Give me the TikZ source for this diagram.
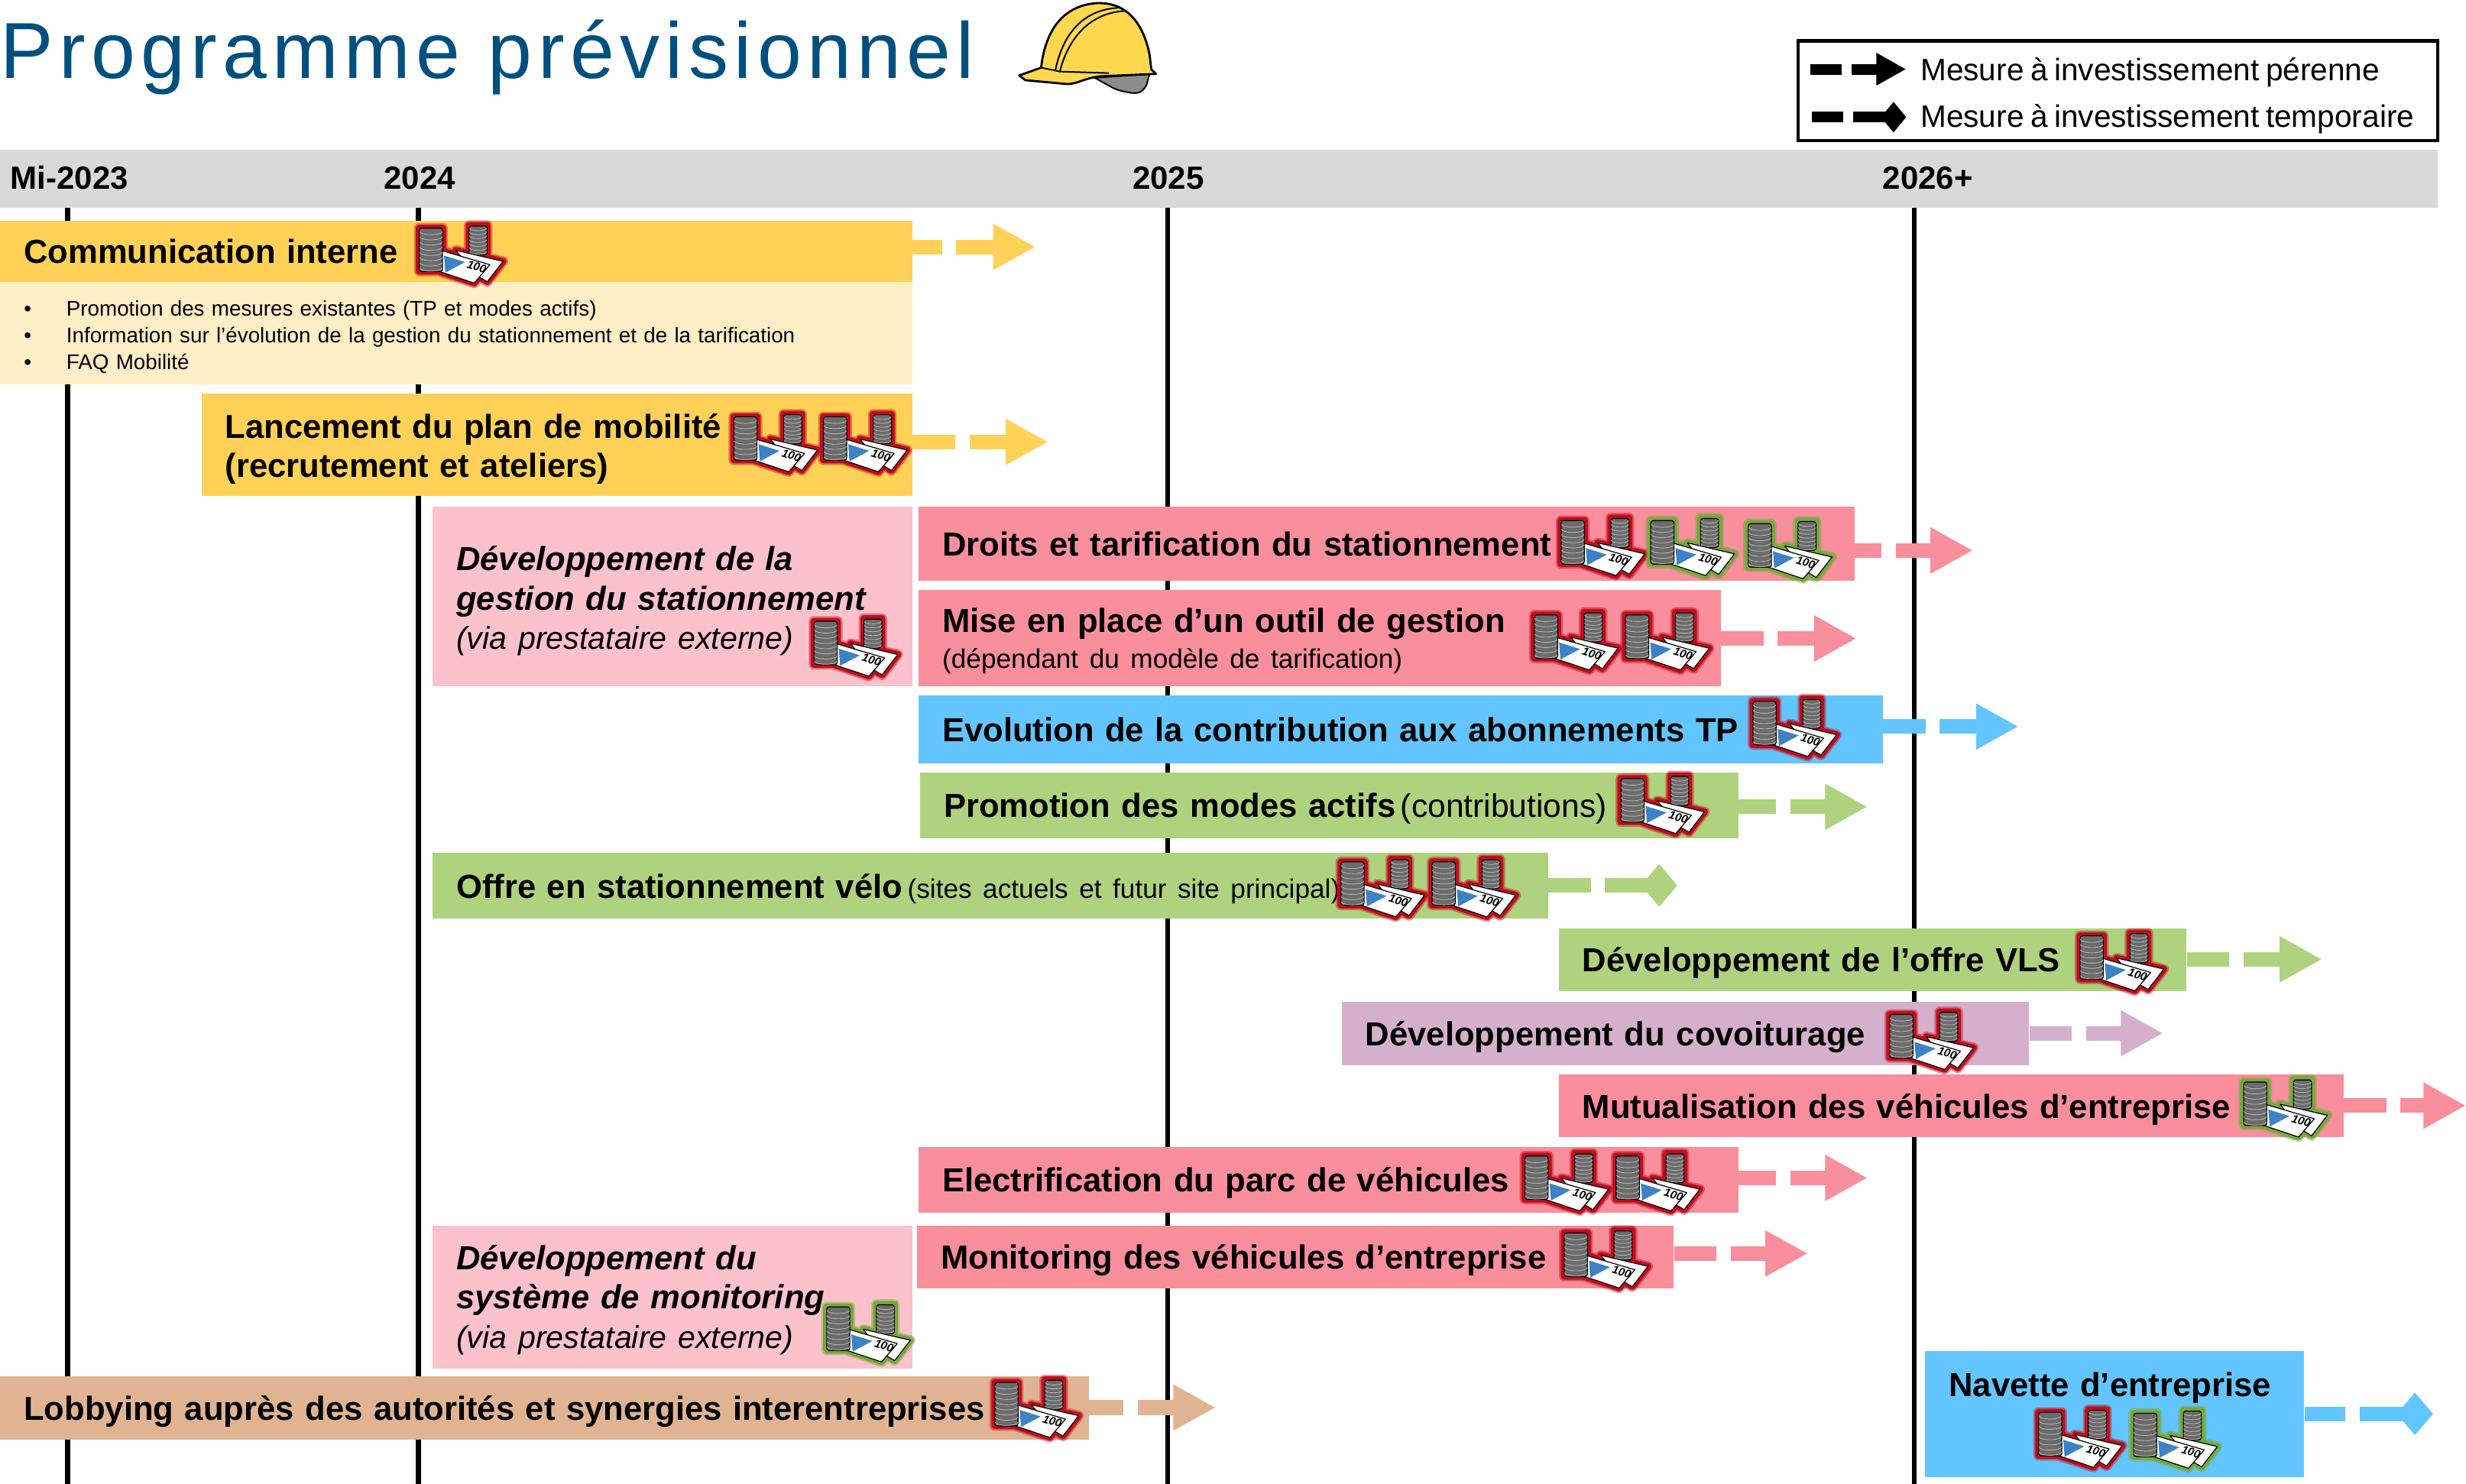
\documentclass[tikz,border=0pt]{standalone}
\usepackage{fontspec}
\setmainfont[WordSpace=0.75]{Liberation Sans}
\newfontfamily\titlefont[LetterSpace=7.1]{Liberation Sans}
\usetikzlibrary{arrows.meta}
\newcommand{\uu}{1.029pt}
\definecolor{titleblue}{HTML}{00507F}
\definecolor{headgray}{HTML}{D9D9D9}
\definecolor{ylwdark}{HTML}{FFD157}
\definecolor{ylwlight}{HTML}{FFEFC7}
\definecolor{pinkdark}{HTML}{F98E9C}
\definecolor{pinklight}{HTML}{FCC2CC}
\definecolor{skyblue}{HTML}{63C5FF}
\definecolor{leaf}{HTML}{AFD27E}
\definecolor{mauve}{HTML}{D5B0CC}
\definecolor{tan}{HTML}{E0B493}
\definecolor{glowred}{HTML}{C00D1E}
\definecolor{glowgreen}{HTML}{76A83A}
\definecolor{hatyellow}{HTML}{FFD850}
\definecolor{noteblue}{HTML}{3C82C4}
\newcommand{\moneyoutline}{(15,30) rectangle (105,195) (205,20) rectangle (275,130)
	(155,115) -- (335,157) -- (275,235) -- (225,205) -- cycle
	(105,117) -- (285,170) -- (225,240) -- (60,185) -- cycle}
\tikzset{
	bar/.style 2 args={anchor=north west,inner xsep=15*\uu,inner ysep=0pt,align=left,
		text width=(#1-30)*\uu,minimum height=#2*\uu,font=\fontsize{21.8}{25.7}\selectfont},
	barone/.style 2 args={bar={#1}{#2},text depth=0pt},
	axisline/.style={line width=3*\uu},
	year/.style={anchor=west,inner sep=0pt,font=\fontsize{21}{24}\selectfont\bfseries},
	small/.style={font=\fontsize{13.9}{17.5}\selectfont},
	link/.style={line width=9.3*\uu,dash pattern=on #1*\uu off 9*\uu on 300*\uu},
	perenne/.style={-{Triangle[length=27.8pt,width=28.2pt]}},
	temporaire/.style={-{Diamond[length=23.7pt,width=27.8pt]}},
	legtext/.style={anchor=west,inner ysep=0pt,inner xsep=9*\uu,font=\fontsize{20.3}{24}\selectfont},
	disc/.style={draw=white!70!black,line width=.45pt},
	body/.style={fill=black!58,line width=.6pt,rounded corners=1.5pt},
	pics/money/.style={code={
		\begin{scope}[scale=.1667]
			%halo
			\draw[draw=#1,fill=#1,line width=6.6pt,line join=round,opacity=.45] \moneyoutline;
			\draw[draw=#1,fill=#1,line width=4.4pt,line join=round] \moneyoutline;
			%small stack
			\draw[body] (206,22) rectangle (274,132);
			\foreach \k in {0,...,6}
				\draw[disc] (207,120-\k*15) arc (180:0:33 and 10);
			%notes
			\draw[fill=white,line width=.6pt,line join=round] (155,115) -- (335,157) -- (275,235) -- (225,205) -- cycle;
			\draw[fill=white,line width=.6pt,line join=round] (105,117) -- (285,170) -- (225,240) -- (60,185) -- cycle;
			\fill[noteblue] (110,135) -- (190,160) -- (115,200) -- cycle;
			\node[rotate=-17,inner sep=0pt,font=\fontsize{7.5}{8}\selectfont\bfseries\itshape] (val) at (235,178) {100};
			%big stack
			\draw[body] (16,30) rectangle (104,196);
			\foreach \k in {0,...,7}
				\draw[disc] (17,182-\k*19.8) arc (180:0:43 and 12);
		\end{scope}
	}}
}
\begin{document}
\begin{tikzpicture}[x=\uu,y=-\uu]
	\useasboundingbox (0,0) rectangle (1568,943.6);
	%title
	\node[anchor=base west,inner sep=0pt,text=titleblue,font=\fontsize{52}{60}\selectfont\titlefont] (title) at (0,50) {Programme prévisionnel};
	%helmet
	\draw[fill=black!45,line width=1pt,line join=round] (696,49.5) .. controls (703,53) and (708,57) .. (714,58) .. controls (722,60) and (726,60) .. (729,54) -- (731,47) -- cycle;
	\draw[fill=hatyellow,line width=1.4pt,line join=round] (662,43) .. controls (664,25) and (672,4) .. (697,2) .. controls (720,1) and (728,20) .. (731,35) -- (732,44) -- (735,47) -- (700,48.5) .. controls (690,49.5) and (686,53) .. (679,53.5) -- (652,51) -- (648,48) -- cycle;
	\draw[line width=1pt] (711,5) .. controls (690,6) and (676,20) .. (671,45);
	\draw[line width=1pt] (715,7) .. controls (695,8) and (680,22) .. (674,45);
	\draw[line width=1pt] (662,43) -- (674,45.5) -- (705,46.5);
	%legend
	\draw[line width=2*\uu] (1143.4,26) rectangle (1550,89.4);
	\node[legtext] (legperenne) at (1212,46) {Mesure à investissement pérenne};
	\node[legtext] (legtemporaire) at (1212,75.5) {Mesure à investissement temporaire};
	\coordinate (legstartA) at (1151,44);
	\coordinate (legstartB) at (1152,74.5);
	\draw[line width=6.8*\uu,dash pattern=on 20*\uu off 6.3*\uu on 100*\uu,-{Triangle[length=19.5pt,width=20pt]}] (legstartA) -- (legstartA -| legperenne.west);
	\draw[line width=6.8*\uu,dash pattern=on 20*\uu off 6.3*\uu on 100*\uu,-{Diamond[length=16.5pt,width=20pt]}] (legstartB) -- (legstartB -| legtemporaire.west);
	%timeline
	\node[anchor=north west,fill=headgray,minimum width=1550*\uu,minimum height=37*\uu,inner sep=0pt] (head) at (0,95) {};
	\node[year] (y2023) at (6.5,113) {Mi-2023};
	\node[year] (y2024) at (244,113) {2024};
	\node[year] (y2025) at (720,113) {2025};
	\node[year] (y2026) at (1197,113) {2026+};
	\foreach \x in {43,266,742.5,1217}
		\draw[axisline] (\x,132) -- (\x,943.6);
	%bars
	\node[barone={580}{39.5},fill=ylwdark] (comm) at (0,140) {\bfseries Communication interne};
	\node[bar={580}{65},fill=ylwlight,small] (commlist) at (0,179) {\rule{0pt}{15pt}\makebox[27.8pt][l]{•}Promotion des mesures existantes (TP et modes actifs)\\
		\makebox[27.8pt][l]{•}Information sur l’évolution de la gestion du stationnement et de la tarification\\
		\makebox[27.8pt][l]{•}FAQ Mobilité};
	\node[bar={452}{65},fill=ylwdark] (lance) at (128,250) {\rule{0pt}{22pt}\bfseries Lancement du plan de mobilité\\\bfseries (recrutement et ateliers)};
	\node[bar={305}{114},fill=pinklight] (gestion) at (275,322) {\rule{0pt}{22pt}\bfseries\itshape Développement de la\\\bfseries\itshape gestion du stationnement\\\normalfont\itshape\fontsize{20.6}{25.7}\selectfont (via prestataire externe)};
	\node[barone={595}{47},fill=pinkdark] (droits) at (584,322) {\bfseries Droits et tarification du stationnement};
	\node[bar={510}{61},fill=pinkdark] (mise) at (584,375) {\rule{0pt}{20pt}\bfseries Mise en place d’un outil de gestion\\[-2pt]\normalfont\fontsize{17.6}{20}\selectfont (dépendant du modèle de tarification)};
	\node[barone={613}{43},fill=skyblue] (evol) at (584,442) {\bfseries Evolution de la contribution aux abonnements TP};
	\node[barone={520}{42},fill=leaf] (promo) at (585,491) {\textbf{Promotion des modes actifs}\hspace{-4pt} {\fontsize{21.3}{25}\selectfont (contributions)}};
	\node[barone={709}{42},fill=leaf] (velo) at (275,542) {\textbf{Offre en stationnement vélo}\hspace{-4pt} {\fontsize{17.6}{20}\selectfont (sites actuels et futur site principal)}};
	\node[barone={399}{40},fill=leaf] (vls) at (991,590) {\bfseries Développement de l’offre VLS};
	\node[barone={437}{40},fill=mauve] (covoit) at (853,637) {\bfseries Développement du covoiturage};
	\node[barone={499}{40},fill=pinkdark] (mutual) at (991,683) {\bfseries Mutualisation des véhicules d’entreprise};
	\node[barone={521}{42},fill=pinkdark] (elec) at (584,729) {\bfseries Electrification du parc de véhicules};
	\node[barone={481}{40},fill=pinkdark] (monit) at (583,779) {\bfseries Monitoring des véhicules d’entreprise};
	\node[bar={305}{91},fill=pinklight] (devmon) at (275,779) {\rule{0pt}{20pt}\bfseries\itshape Développement du\\\bfseries\itshape système de monitoring\\\normalfont\itshape\fontsize{20.6}{25.7}\selectfont (via prestataire externe)};
	\node[barone={692}{40},fill=tan] (lobby) at (0,875) {\bfseries Lobbying auprès des autorités et synergies interentreprises};
	\node[bar={241}{80},fill=skyblue] (navette) at (1224,859) {\bfseries Navette d’entreprise\\[13pt]\mbox{}};
	%links
	\foreach \b/\tx/\ty/\stub/\col/\kind in {comm/658.5/157/18.5/ylwdark/perenne,lance/666.5/281/27/ylwdark/perenne,
		droits/1254.5/350/17/pinkdark/perenne,mise/1180.5/406/27/pinkdark/perenne,evol/1283.5/462/27/skyblue/perenne,
		promo/1187.5/513/24/leaf/perenne,velo/1066.5/563/27/leaf/temporaire,vls/1476.5/610/27/leaf/perenne,
		covoit/1375.5/657/27/mauve/perenne,mutual/1568/703/27/pinkdark/perenne,elec/1187.5/749/24/pinkdark/perenne,
		monit/1149.5/797/27/pinkdark/perenne,lobby/773/895/22/tan/perenne,navette/1547/899/26/skyblue/temporaire}
	{
		\coordinate (\b end) at (\tx,\ty);
		\draw[draw=\col,link=\stub,\kind] (\b.east |- \b end) -- (\b end);
	}
	%money
	\foreach \n/\x/\y/\g in {a/264/140/glowred,b/464/260/glowred,c/521/260/glowred,d/990/326/glowred,e/1047/326/glowgreen,
		f/1109/328/glowgreen,g/973/386/glowred,h/1031/386/glowred,i/515/390/glowred,j/1112/441/glowred,k/1028/490/glowred,
		l/850/543/glowred,m/908/543/glowred,o/1320/590/glowred,p/1199/640/glowred,q/1424/683/glowgreen,r/967/730/glowred,
		s/1025/730/glowred,t/992/779/glowred,v/523/826/glowgreen,w/630/874/glowred,x/1293.6/893/glowred,y/1354/893.6/glowgreen}
		\pic (ic\n) at (\x,\y) {money=\g};
\end{tikzpicture}
\end{document}
